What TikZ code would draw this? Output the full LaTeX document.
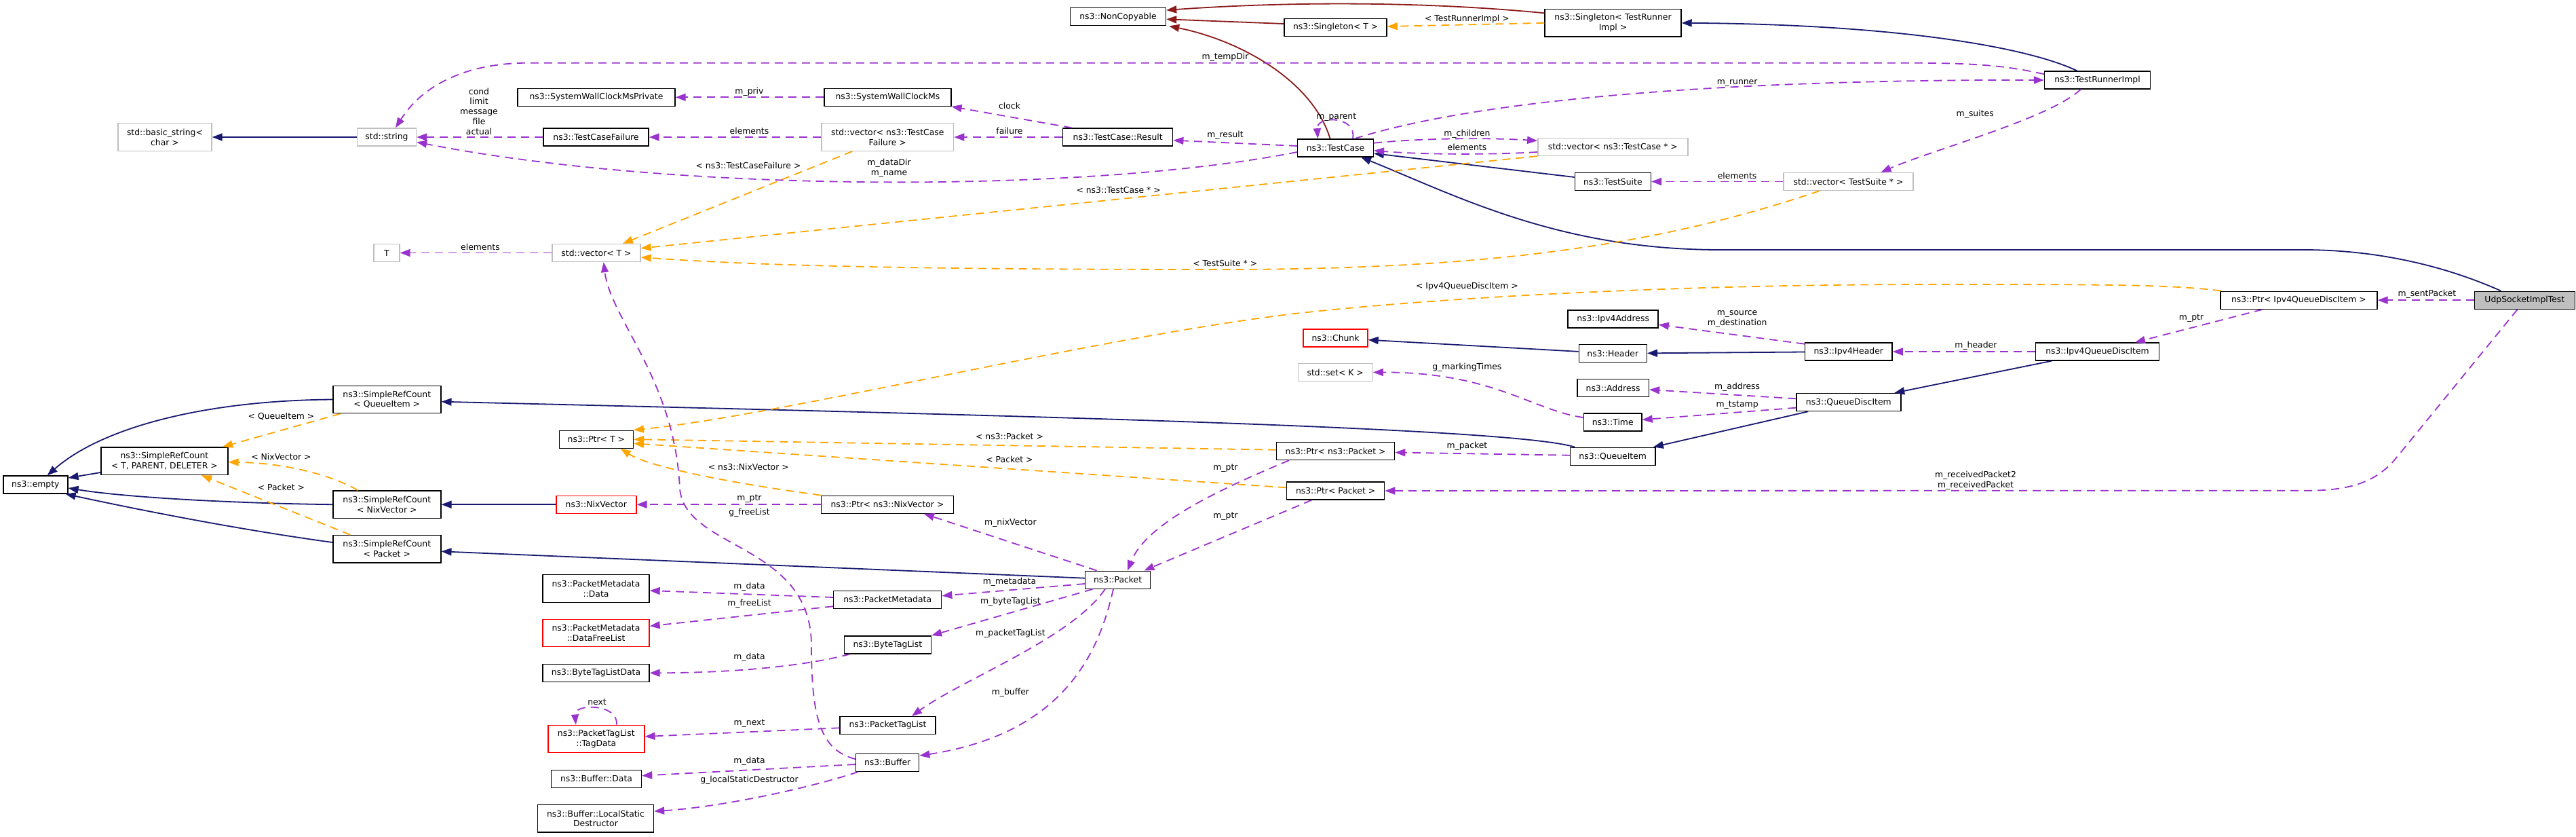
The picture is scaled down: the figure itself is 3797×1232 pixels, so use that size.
\documentclass[tikz,border=0pt]{standalone}
\usepackage{fontspec}
\setmainfont{DejaVu Sans}
\usepackage{xcolor}
\usetikzlibrary{arrows.meta}

\definecolor{inhblue}{HTML}{191970}
\definecolor{inhred}{HTML}{8B1A1A}
\definecolor{usepurple}{HTML}{9A32CD}
\definecolor{tplorange}{HTML}{FFA500}
\definecolor{extgray}{HTML}{BFBFBF}

\tikzset{
  box/.style={draw=black, line width=0.7pt, fill=white, inner sep=0pt,
    minimum height=13pt, align=center, font=\fontsize{6.2pt}{7.4pt}\selectfont},
  two/.style={minimum height=20.25pt},
  extbox/.style={box, draw=extgray},
  redbox/.style={box, draw=red},
  lbl/.style={inner sep=0pt, align=center, font=\fontsize{6.2pt}{7.4pt}\selectfont},
  inherit/.style={draw=inhblue, line width=0.9pt, -{Triangle[length=7.5pt,width=5.5pt]}},
  privinh/.style={draw=inhred, line width=0.9pt, -{Triangle[length=7.5pt,width=5.5pt]}},
  usage/.style={draw=usepurple, line width=0.9pt, dash pattern=on 6pt off 4pt,
    -{Triangle[length=7.5pt,width=5.5pt]}},
  tmpl/.style={draw=tplorange, line width=0.9pt, dash pattern=on 6pt off 4pt,
    -{Triangle[length=7.5pt,width=5.5pt]}}
}

\begin{document}
\begin{tikzpicture}[x=0.5pt,y=-0.5pt]
\useasboundingbox (0,0) rectangle (3797,1232);

% 上部 TestCase 一带
\node[box, minimum width=70.5pt] (noncopy) at (1648,24.7) {ns3::NonCopyable};
\node[box, minimum width=75.5pt] (singT) at (1968.6,40.5) {ns3::Singleton< T >};
\node[box, two, minimum width=100.5pt] (singTRI) at (2377.5,33.8) {ns3::Singleton< TestRunner\\Impl >};
\node[box, minimum width=78pt] (runner) at (3091.5,118) {ns3::TestRunnerImpl};
\node[extbox, two, minimum width=69pt] (bstr) at (243,202) {std::basic\_string<\\char >};
\node[extbox, minimum width=43.5pt] (str) at (570,202) {std::string};
\node[box, minimum width=116pt] (swcmp) at (879,143.3) {ns3::SystemWallClockMsPrivate};
\node[box, minimum width=77.5pt] (tcf) at (878.5,202) {ns3::TestCaseFailure};
\node[box, minimum width=93.5pt] (swcm) at (1308.4,143.3) {ns3::SystemWallClockMs};
\node[extbox, two, minimum width=97.25pt] (vecTCF) at (1308.3,202) {std::vector< ns3::TestCase\\Failure >};
\node[box, minimum width=81pt] (result) at (1647.7,202) {ns3::TestCase::Result};
\node[box, minimum width=55.75pt] (testcase) at (1968.5,217.8) {ns3::TestCase};
\node[extbox, minimum width=110.5pt] (vecTC) at (2377.3,216.3) {std::vector< ns3::TestCase * >};
\node[box, minimum width=56pt] (suite) at (2377.3,267.5) {ns3::TestSuite};
\node[extbox, minimum width=95.5pt] (vecTS) at (2724.5,267.5) {std::vector< TestSuite * >};
\node[extbox, minimum width=19pt] (tT) at (570,372.5) {T};
\node[extbox, minimum width=65pt] (vecT) at (879,372.5) {std::vector< T >};

% 中部 队列与头部
\node[box, minimum width=115.5pt] (ptrIQ) at (3388.4,442.2) {ns3::Ptr< Ipv4QueueDiscItem >};
\node[box, fill=extgray, minimum width=74pt] (udp) at (3721.3,442.2) {UdpSocketImplTest};
\node[box, minimum width=91pt] (ipv4qdi) at (3091.5,518) {ns3::Ipv4QueueDiscItem};
\node[box, minimum width=66.5pt] (ipv4addr) at (2377.6,470) {ns3::Ipv4Address};
\node[redbox, minimum width=47.5pt] (chunk) at (1968.5,498) {ns3::Chunk};
\node[box, minimum width=50pt] (header) at (2377.3,520.7) {ns3::Header};
\node[box, minimum width=64.25pt] (ipv4hdr) at (2724.8,518) {ns3::Ipv4Header};
\node[extbox, minimum width=55pt] (setK) at (1968.2,548.5) {std::set< K >};
\node[box, minimum width=52.75pt] (address) at (2377.6,571.5) {ns3::Address};
\node[box, minimum width=77pt] (qdi) at (2724.8,592.5) {ns3::QueueDiscItem};
\node[box, minimum width=42.75pt] (time) at (2377.2,621.8) {ns3::Time};
\node[box, minimum width=62.75pt] (qitem) at (2377.2,672.3) {ns3::QueueItem};
\node[box, minimum width=87pt] (ptrNP) at (1968.6,664.5) {ns3::Ptr< ns3::Packet >};
\node[box, minimum width=72pt] (ptrP) at (1968.6,723) {ns3::Ptr< Packet >};

% 左侧 SimpleRefCount
\node[box, minimum width=47.5pt] (empty) at (52.4,714) {ns3::empty};
\node[box, two, minimum width=93.5pt] (srcT) at (242.4,679.2) {ns3::SimpleRefCount\\< T, PARENT, DELETER >};
\node[box, two, minimum width=79.5pt] (srcQI) at (570.3,588.5) {ns3::SimpleRefCount\\< QueueItem >};
\node[box, two, minimum width=79.5pt] (srcNV) at (570.3,743.2) {ns3::SimpleRefCount\\< NixVector >};
\node[box, two, minimum width=79.5pt] (srcP) at (570.3,808.7) {ns3::SimpleRefCount\\< Packet >};
\node[box, minimum width=54.5pt] (ptrT) at (878.8,647.2) {ns3::Ptr< T >};
\node[redbox, minimum width=59pt] (nixvec) at (878.8,743.2) {ns3::NixVector};
\node[box, minimum width=97.5pt] (ptrNV) at (1308,743.2) {ns3::Ptr< ns3::NixVector >};

% 底部 Packet
\node[box, minimum width=48pt] (packet) at (1647.6,854.2) {ns3::Packet};
\node[box, minimum width=79.5pt] (pmeta) at (1308.2,883.2) {ns3::PacketMetadata};
\node[box, minimum width=64pt] (btl) at (1308.4,949.8) {ns3::ByteTagList};
\node[box, minimum width=70.5pt] (ptl) at (1308.5,1068.5) {ns3::PacketTagList};
\node[box, minimum width=46.5pt] (buffer) at (1308.2,1123.3) {ns3::Buffer};
\node[box, two, minimum width=78.5pt] (pmdata) at (878.5,867) {ns3::PacketMetadata\\::Data};
\node[redbox, two, minimum width=78.5pt] (dfl) at (878.5,932.5) {ns3::PacketMetadata\\::DataFreeList};
\node[box, minimum width=78.5pt] (btldata) at (878.5,991.3) {ns3::ByteTagListData};
\node[redbox, two, minimum width=71pt] (tagdata) at (878.8,1088.5) {ns3::PacketTagList\\::TagData};
\node[box, minimum width=66.5pt] (bufdata) at (879,1147.2) {ns3::Buffer::Data};
\node[box, two, minimum width=85.5pt] (lsd) at (878,1205.8) {ns3::Buffer::LocalStatic\\Destructor};

% 继承
\draw[inherit] (str) -- (bstr);
\draw[inherit] ([xshift=-15pt]runner.north) .. controls (2990,70) and (2800,36) .. (singTRI.east);
\draw[inherit] ([yshift=3.25pt]suite.west) -- ([yshift=-4.1pt]testcase.east);
\draw[inherit] ([xshift=-17.5pt]udp.north) .. controls (3600,390) and (3500,368) .. (3395,368) -- (2536,368)
  .. controls (2300,368) and (2150,290) .. ([xshift=18.75pt]testcase.south);
\draw[inherit] (ipv4hdr) -- (header);
\draw[inherit] (header) -- (chunk);
\draw[inherit] (qdi) -- (qitem);
\draw[inherit] (ipv4qdi) -- (qdi);
\draw[inherit] ([xshift=-28pt]qitem.north) .. controls (2230,630) and (1500,612) .. ([yshift=-1.6pt]srcQI.east);
\draw[inherit] (nixvec) -- (srcNV);
\draw[inherit] ([yshift=1.25pt]packet.west) -- ([yshift=-1.8pt]srcP.east);
\draw[inherit] (srcQI.west) .. controls (300,590) and (150,630) .. ([xshift=8.65pt]empty.north);
\draw[inherit] ([yshift=-8.4pt]srcT.west) -- ([yshift=5pt]empty.east);
\draw[inherit] (srcNV.west) .. controls (380,742) and (200,735) .. ([yshift=-2.5pt]empty.east);
\draw[inherit] ([yshift=4.85pt]srcP.west) .. controls (350,780) and (200,750) .. ([xshift=-2pt]empty.south east);

\draw[privinh] ([xshift=-4pt]testcase.north) .. controls (1935,120) and (1830,60) .. ([xshift=2pt]noncopy.south east);
\draw[privinh] ([yshift=2.75pt]singT.west) -- ([yshift=-1.8pt]noncopy.east);
\draw[privinh] ([yshift=7.25pt]singTRI.west) .. controls (2100,2) and (1900,2) .. ([yshift=4.85pt]noncopy.east);

% 模板实例
\draw[tmpl] (singTRI.west) -- ([yshift=0.75pt]singT.east);
\draw[tmpl] ([xshift=-26pt]vecTCF.south) -- ([xshift=19.5pt]vecT.north);
\draw[tmpl] (vecTC.south west) -- ([yshift=3.4pt]vecT.east);
\draw[tmpl] ([xshift=-21.35pt]vecTS.south) .. controls (2450,360) and (2200,397) .. (1800,397)
  .. controls (1300,397) and (1100,390) .. ([yshift=-3.25pt]vecT.east);
\draw[tmpl] ([xshift=-57.2pt]ptrIQ.north) .. controls (3200,419) and (3100,419) .. (2850,419)
  .. controls (2450,419) and (2100,440) .. (1900,463) .. controls (1600,500) and (1150,612) .. (ptrT.north east);
\draw[tmpl] ([yshift=0.9pt]ptrNP.west) -- (ptrT.east);
\draw[tmpl] ([yshift=2.35pt]ptrP.west) -- ([yshift=-3pt]ptrT.east);
\draw[tmpl] (ptrNV.north west) .. controls (1100,715) and (960,690) .. ([xshift=18pt]ptrT.south);
\draw[tmpl] ([xshift=-34.25pt]srcQI.south) -- ([xshift=-4.25pt]srcT.north east);
\draw[tmpl] ([xshift=-21.5pt]srcNV.north) .. controls (490,700) and (420,682) .. ([yshift=-0.75pt]srcT.east);
\draw[tmpl] ([xshift=-27pt]srcP.north) -- ([xshift=27.3pt]srcT.south);

% 成员
\draw[usage] (tcf) -- (str);
\draw[usage] (vecTCF) -- (tcf);
\draw[usage] (swcm) -- (swcmp);
\draw[usage] ([xshift=-33.9pt]result.north) -- (swcm.south east);
\draw[usage] (result) -- (vecTCF);
\draw[usage] ([yshift=1.4pt]testcase.west) -- ([yshift=-2.35pt]result.east);
\draw[usage] ([yshift=-3.1pt]testcase.west) .. controls (1600,285) and (1000,285) .. ([yshift=-3.65pt]str.east);
\draw[usage] ([yshift=4.4pt]runner.west) .. controls (2950,95) and (2900,92.7) .. (2800,92.7) -- (780,92.7)
  .. controls (680,92.7) and (620,130) .. ([xshift=6.5pt]str.north);
\draw[usage] ([xshift=14.25pt]testcase.north) .. controls (2200,140) and (2600,117) .. (runner.west);
\draw[usage] ([xshift=12.75pt]testcase.north) .. controls (2000,170) and (1940,170) .. ([xshift=-13pt]testcase.north);
\draw[usage] ([yshift=3.55pt]testcase.east) .. controls (2100,203) and (2200,203) .. ([yshift=4.5pt]vecTC.west);
\draw[usage] ([yshift=-3.85pt]vecTC.west) .. controls (2200,228) and (2100,228) .. ([yshift=-2pt]testcase.east);
\draw[usage] (vecTS) -- (suite);
\draw[usage] ([xshift=-12.25pt]runner.south) .. controls (3020,175) and (2850,220) .. ([xshift=24pt]vecTS.north);
\draw[usage] (vecT) -- (tT);
\draw[usage] ([yshift=2.5pt]buffer.west) .. controls (1210,1105) and (1196,1060) .. (1196,950)
  .. controls (1195,800) and (1010,810) .. (1002,720) .. controls (995,560) and (900,470) .. ([xshift=5.35pt]vecT.south);
\draw[usage] (ptrNV) -- (nixvec);
\draw[usage] ([xshift=-15.5pt]packet.north) -- ([xshift=27pt]ptrNV.south);
\draw[usage] ([xshift=-34.3pt]ptrNP.south) .. controls (1800,720) and (1690,770) .. ([xshift=7.2pt]packet.north);
\draw[usage] ([xshift=-17.6pt]ptrP.south) -- ([xshift=19.4pt]packet.north);
\draw[usage] ([yshift=0.8pt]qitem.west) -- ([yshift=-1pt]ptrNP.east);
\draw[usage] ([xshift=-5.35pt]udp.south) -- (3530,677) .. controls (3500,712) and (3460,722.7) .. (3400,722.7) -- (ptrP.east);
\draw[usage] ([xshift=-26.8pt]ptrIQ.south) -- ([xshift=27.75pt]ipv4qdi.north);
\draw[usage] (udp) -- (ptrIQ);
\draw[usage] (ipv4qdi) -- (ipv4hdr);
\draw[usage] ([yshift=5.65pt]ipv4hdr.west) -- ([yshift=-4.15pt]ipv4addr.east);
\draw[usage] ([yshift=2.6pt]qdi.west) -- ([yshift=-1.25pt]address.east);
\draw[usage] ([yshift=-4.1pt]qdi.west) -- ([yshift=1.75pt]time.east);
\draw[usage] ([yshift=3.4pt]time.west) .. controls (2260,605) and (2200,548) .. (setK.east);
\draw[usage] ([yshift=1.6pt]pmeta.west) -- ([yshift=-1.5pt]pmdata.east);
\draw[usage] ([yshift=-5pt]pmeta.west) -- ([yshift=5.1pt]dfl.east);
\draw[usage] ([yshift=-2.9pt]packet.west) -- ([yshift=2.75pt]pmeta.east);
\draw[usage] ([xshift=-18.5pt]packet.south) -- (btl.north east);
\draw[usage] ([xshift=-27.7pt]btl.south) .. controls (1200,978) and (1100,991) .. (btldata.east);
\draw[usage] ([xshift=-9.4pt]packet.south) .. controls (1580,940) and (1420,1000) .. ([xshift=17.75pt]ptl.north);
\draw[usage] ([yshift=-1.9pt]ptl.west) -- ([yshift=1.75pt]tagdata.east);
\draw[usage] ([xshift=15pt]tagdata.north) .. controls (912,1036) and (846,1036) .. ([xshift=-15pt]tagdata.north);
\draw[usage] ([xshift=-3.3pt]packet.south) .. controls (1620,960) and (1570,1080) .. ([yshift=5pt]buffer.east);
\draw[usage] ([yshift=-1.35pt]buffer.west) -- ([yshift=2.25pt]bufdata.east);
\draw[usage] ([xshift=-21.6pt]buffer.south) .. controls (1180,1165) and (1050,1190) .. ([yshift=5.4pt]lsd.east);

% 连线标签
\node[lbl] (lbCond) at (706,164) {cond\\limit\\message\\file\\actual};
\node[lbl] (lbElemT) at (708,364) {elements};
\node[lbl] (lbPriv) at (1104.5,135) {m\_priv};
\node[lbl] (lbClock) at (1488,156) {clock};
\node[lbl] (lbFailure) at (1488,193.3) {failure};
\node[lbl] (lbElemTCF) at (1104.5,193.3) {elements};
\node[lbl] (lbResult) at (1806,199) {m\_result};
\node[lbl] (lbTplTCF) at (1103,244.3) {< ns3::TestCaseFailure >};
\node[lbl] (lbDataDir) at (1310.6,247.5) {m\_dataDir\\m\_name};
\node[lbl] (lbTplTC) at (1648.6,280) {< ns3::TestCase * >};
\node[lbl] (lbTplTS) at (1805.8,388.3) {< TestSuite * >};
\node[lbl] (lbTempDir) at (1806,84.3) {m\_tempDir};
\node[lbl] (lbTplTRI) at (2162.4,28.3) {< TestRunnerImpl >};
\node[lbl] (lbParent) at (1969.7,172.7) {m\_parent};
\node[lbl] (lbChildren) at (2162.4,197.7) {m\_children};
\node[lbl] (lbElemTC) at (2162.4,216.7) {elements};
\node[lbl] (lbRunner) at (2560.6,122) {m\_runner};
\node[lbl] (lbElemTS) at (2560.6,258.7) {elements};
\node[lbl] (lbSuites) at (2911.2,168.7) {m\_suites};
\node[lbl] (lbTplQI) at (414.5,613.3) {< QueueItem >};
\node[lbl] (lbTplNV) at (414.5,673.3) {< NixVector >};
\node[lbl] (lbTplP) at (414.5,718.3) {< Packet >};
\node[lbl] (lbTplNP) at (1488,642.7) {< ns3::Packet >};
\node[lbl] (lbTplPk) at (1488,677.3) {< Packet >};
\node[lbl] (lbTplNNV) at (1103.3,688.3) {< ns3::NixVector >};
\node[lbl] (lbPtrNV) at (1104.5,735) {m\_ptr};
\node[lbl] (lbFree) at (1104.5,755) {g\_freeList};
\node[lbl] (lbPtrA) at (1806.4,690) {m\_ptr};
\node[lbl] (lbPtrB) at (1806.4,760.7) {m\_ptr};
\node[lbl] (lbNix) at (1489.4,770) {m\_nixVector};
\node[lbl] (lbTplIQ) at (2162.4,421.7) {< Ipv4QueueDiscItem >};
\node[lbl] (lbSrcDst) at (2560.6,470) {m\_source\\m\_destination};
\node[lbl] (lbMarking) at (2162.4,541.7) {g\_markingTimes};
\node[lbl] (lbAddr) at (2560.6,570.7) {m\_address};
\node[lbl] (lbTstamp) at (2560.6,596.7) {m\_tstamp};
\node[lbl] (lbPacket) at (2162.4,657.7) {m\_packet};
\node[lbl] (lbSent) at (3577.3,433.3) {m\_sentPacket};
\node[lbl] (lbPtrIQ) at (3230,468.3) {m\_ptr};
\node[lbl] (lbHeader) at (2912.4,509.3) {m\_header};
\node[lbl] (lbRecv) at (2912,707.5) {m\_receivedPacket2\\m\_receivedPacket};
\node[lbl] (lbMData) at (1104.5,864.3) {m\_data};
\node[lbl] (lbFreeList) at (1104.5,889.3) {m\_freeList};
\node[lbl] (lbMeta) at (1488,857.7) {m\_metadata};
\node[lbl] (lbBTL) at (1489.4,886) {m\_byteTagList};
\node[lbl] (lbBTLData) at (1104.5,968.3) {m\_data};
\node[lbl] (lbPTL) at (1489.4,933.7) {m\_packetTagList};
\node[lbl] (lbBuffer) at (1489.4,1020) {m\_buffer};
\node[lbl] (lbNext) at (1104.5,1065.7) {m\_next};
\node[lbl] (lbNextSelf) at (880,1034) {next};
\node[lbl] (lbBufData) at (1104.5,1121.7) {m\_data};
\node[lbl] (lbLSD) at (1104.5,1149.3) {g\_localStaticDestructor};
\end{tikzpicture}
\end{document}
